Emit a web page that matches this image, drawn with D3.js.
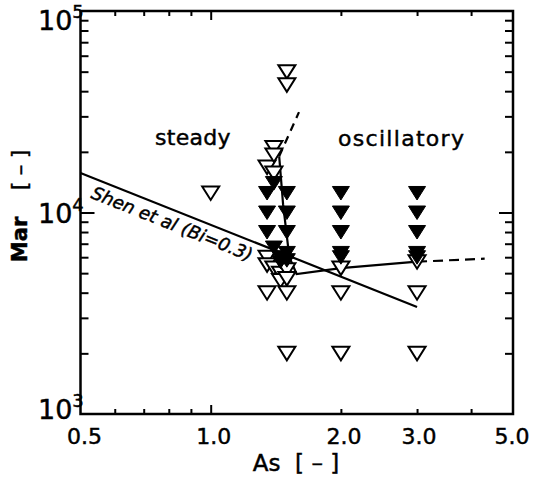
<!DOCTYPE html>
<html>
<head>
<meta charset="utf-8">
<script src="https://cdn.jsdelivr.net/npm/d3@7"></script>
<style>
  body { margin: 0; background: #fff; }
  svg { font-family: "DejaVu Sans", "Liberation Sans", sans-serif; }
  text { stroke: #000; stroke-width: 0.45px; }
</style>
</head>
<body>
<div id="graph"></div>
<script>
// tick values / labels
var xLabelVals = [0.5, 1.0, 2.0, 3.0, 5.0];
var xLabels = ["0.5", "1.0", "2.0", "3.0", "5.0"];
var xMinorVals = [0.6, 0.7, 0.8, 0.9, 2, 3, 4];
var xMajorVals = [1.0];
var yLabelVals = [1e3, 1e4, 1e5];
var yLabelExp = ["3", "4", "5"];
var yMinorVals = [2e3, 3e3, 4e3, 5e3, 6e3, 7e3, 8e3, 9e3, 2e4, 3e4, 4e4, 5e4, 6e4, 7e4, 8e4, 9e4];
var yMajorVals = [1e4];

// open triangles (steady)
var openAs  = [1.0, 1.35, 1.35, 1.35, 1.35, 1.4, 1.4, 1.4, 1.4, 1.45, 1.45,
               1.5, 1.5, 1.5, 1.5, 1.5, 1.5, 2.0, 2.0, 2.0, 3.0, 3.0, 3.0];
var openMar = [12500, 16800, 6000, 5500, 4000, 21000, 19300, 15700, 5300, 5000, 4600,
               50000, 43000, 5200, 4700, 4000, 2000, 5300, 4000, 2000, 5700, 4000, 2000];

// filled triangles (oscillatory)
var filledAs  = [1.35, 1.35, 1.35, 1.4, 1.4, 1.45, 1.45,
                 1.5, 1.5, 1.5, 1.5, 1.5,
                 2.0, 2.0, 2.0, 2.0, 2.0,
                 3.0, 3.0, 3.0, 3.0, 3.0];
var filledMar = [12500, 10000, 8000, 14000, 6700, 6000, 5700,
                 12500, 10000, 8000, 6300, 5800,
                 12500, 10000, 8000, 6300, 6000,
                 12500, 10000, 8000, 6300, 6000];

// Shen et al (Bi=0.3) line
var shenAs = [0.5, 3.0];
var shenMar = [15700, 3400];

// stability boundary
var boundAs = [1.44, 1.47, 1.52, 1.58, 2.0, 3.0];
var boundMar = [19000, 11000, 6000, 4950, 5300, 5700];
var upperDashAs = [1.44, 1.60];
var upperDashMar = [19000, 31500];
var rightDashAs = [3.0, 4.3];
var rightDashMar = [5700, 5900];

var width = 533, height = 477;
var margin = {left: 80.5, right: 20, top: 11, bottom: 63};

var svg = d3.select("#graph").append("svg")
    .attr("width", width)
    .attr("height", height);

var x = d3.scaleLog().domain([0.5, 5.0]).range([margin.left, width - margin.right]);
var y = d3.scaleLog().domain([1e3, 1e5]).range([height - margin.bottom, margin.top]);
var x0 = x.range()[0], x1 = x.range()[1], y0 = y.range()[0], y1 = y.range()[1];

function tickAxis(axisFn, scale, vals, size, tx, ty) {
  var g = svg.append("g")
      .attr("transform", "translate(" + tx + "," + ty + ")")
      .call(axisFn(scale).tickValues(vals).tickSize(size).tickFormat(""));
  g.select(".domain").remove();
  g.selectAll("line").attr("stroke", "#000").attr("stroke-width", 2);
}
// x ticks bottom / top
tickAxis(d3.axisBottom, x, xMinorVals, -5, 0, y0);
tickAxis(d3.axisBottom, x, xMajorVals, -9, 0, y0);
tickAxis(d3.axisTop, x, xMinorVals, -5, 0, y1);
tickAxis(d3.axisTop, x, xMajorVals, -9, 0, y1);
// y ticks left / right
tickAxis(d3.axisLeft, y, yMinorVals, -8, x0, 0);
tickAxis(d3.axisLeft, y, yMajorVals, -14, x0, 0);
tickAxis(d3.axisRight, y, yMinorVals, -8, x1, 0);
tickAxis(d3.axisRight, y, yMajorVals, -14, x1, 0);

// frame
svg.append("rect")
    .attr("x", x0).attr("y", y1)
    .attr("width", x1 - x0).attr("height", y0 - y1)
    .attr("fill", "none").attr("stroke", "#000").attr("stroke-width", 2.5);

// tick labels
var xLabShift = [4, 3, 3, 2, -1];
svg.selectAll(".xlab").data(xLabelVals).enter().append("text")
    .attr("class", "xlab")
    .attr("x", function(d, i) { return x(d) + xLabShift[i]; })
    .attr("y", 444)
    .attr("text-anchor", "middle")
    .style("font-size", "22px")
    .text(function(d, i) { return xLabels[i]; });

var yLabBase = [419, 223, 30];
var yl = svg.selectAll(".ylab").data(yLabelVals).enter().append("text")
    .attr("class", "ylab")
    .attr("x", 38)
    .attr("y", function(d, i) { return yLabBase[i]; })
    .style("font-size", "27px");
yl.append("tspan").text("10");
yl.append("tspan").attr("dy", -12).style("font-size", "18px")
    .text(function(d, i) { return yLabelExp[i]; });

// axis titles
svg.append("text")
    .attr("x", 296).attr("y", 471)
    .attr("text-anchor", "middle")
    .style("font-size", "23px")
    .attr("xml:space", "preserve")
    .text("As  [ \u2013 ]");
svg.append("text")
    .attr("transform", "translate(27,206) rotate(-90)")
    .attr("text-anchor", "middle")
    .style("font-size", "21px")
    .attr("xml:space", "preserve")
    .html('<tspan font-weight="bold">Mar</tspan>    [ \u2013 ]');

// region labels
svg.append("text").attr("x", 155).attr("y", 145)
    .style("font-size", "22px").style("letter-spacing", "0.3px").text("steady");
svg.append("text").attr("x", 338).attr("y", 146)
    .style("font-size", "22px").style("letter-spacing", "1.3px").text("oscillatory");

// lines
var line = d3.line().x(function(d) { return x(d[0]); }).y(function(d) { return y(d[1]); });
function zipped(a, b) { return a.map(function(v, i) { return [v, b[i]]; }); }

svg.append("path").attr("d", line(zipped(shenAs, shenMar)))
    .attr("fill", "none").attr("stroke", "#000").attr("stroke-width", 2.2);
svg.append("path").attr("d", line(zipped(boundAs, boundMar)))
    .attr("fill", "none").attr("stroke", "#000").attr("stroke-width", 2.2);
svg.append("path").attr("d", line(zipped(upperDashAs, upperDashMar)))
    .attr("fill", "none").attr("stroke", "#000").attr("stroke-width", 2.2)
    .attr("stroke-dasharray", "8,6");
svg.append("path").attr("d", line(zipped(rightDashAs, rightDashMar)))
    .attr("fill", "none").attr("stroke", "#000").attr("stroke-width", 2.2)
    .attr("stroke-dasharray", "10,6");

// Shen label along line
var ang = Math.atan2(y(shenMar[1]) - y(shenMar[0]), x(shenAs[1]) - x(shenAs[0])) * 180 / Math.PI;
var shenSlope = (y(shenMar[1]) - y(shenMar[0])) / (x(shenAs[1]) - x(shenAs[0]));
var lx = 90;
var ly = y(shenMar[0]) + shenSlope * (lx - x(shenAs[0])) + 21;
svg.append("text")
    .attr("transform", "translate(" + lx + "," + ly + ") rotate(" + ang + ")")
    .style("font-size", "18px").style("font-style", "italic")
    .text("Shen et al (Bi=0.3)");

// triangles
var tri = "M-8.5,-6.5L8.5,-6.5L0,7Z";
svg.selectAll(".open").data(zipped(openAs, openMar)).enter().append("path")
    .attr("class", "open")
    .attr("d", tri)
    .attr("transform", function(d) { return "translate(" + x(d[0]) + "," + y(d[1]) + ")"; })
    .attr("fill", "#fff").attr("stroke", "#000").attr("stroke-width", 2);
svg.selectAll(".filled").data(zipped(filledAs, filledMar)).enter().append("path")
    .attr("class", "filled")
    .attr("d", tri)
    .attr("transform", function(d) { return "translate(" + x(d[0]) + "," + y(d[1]) + ")"; })
    .attr("fill", "#000").attr("stroke", "#000").attr("stroke-width", 1);
</script>
</body>
</html>
